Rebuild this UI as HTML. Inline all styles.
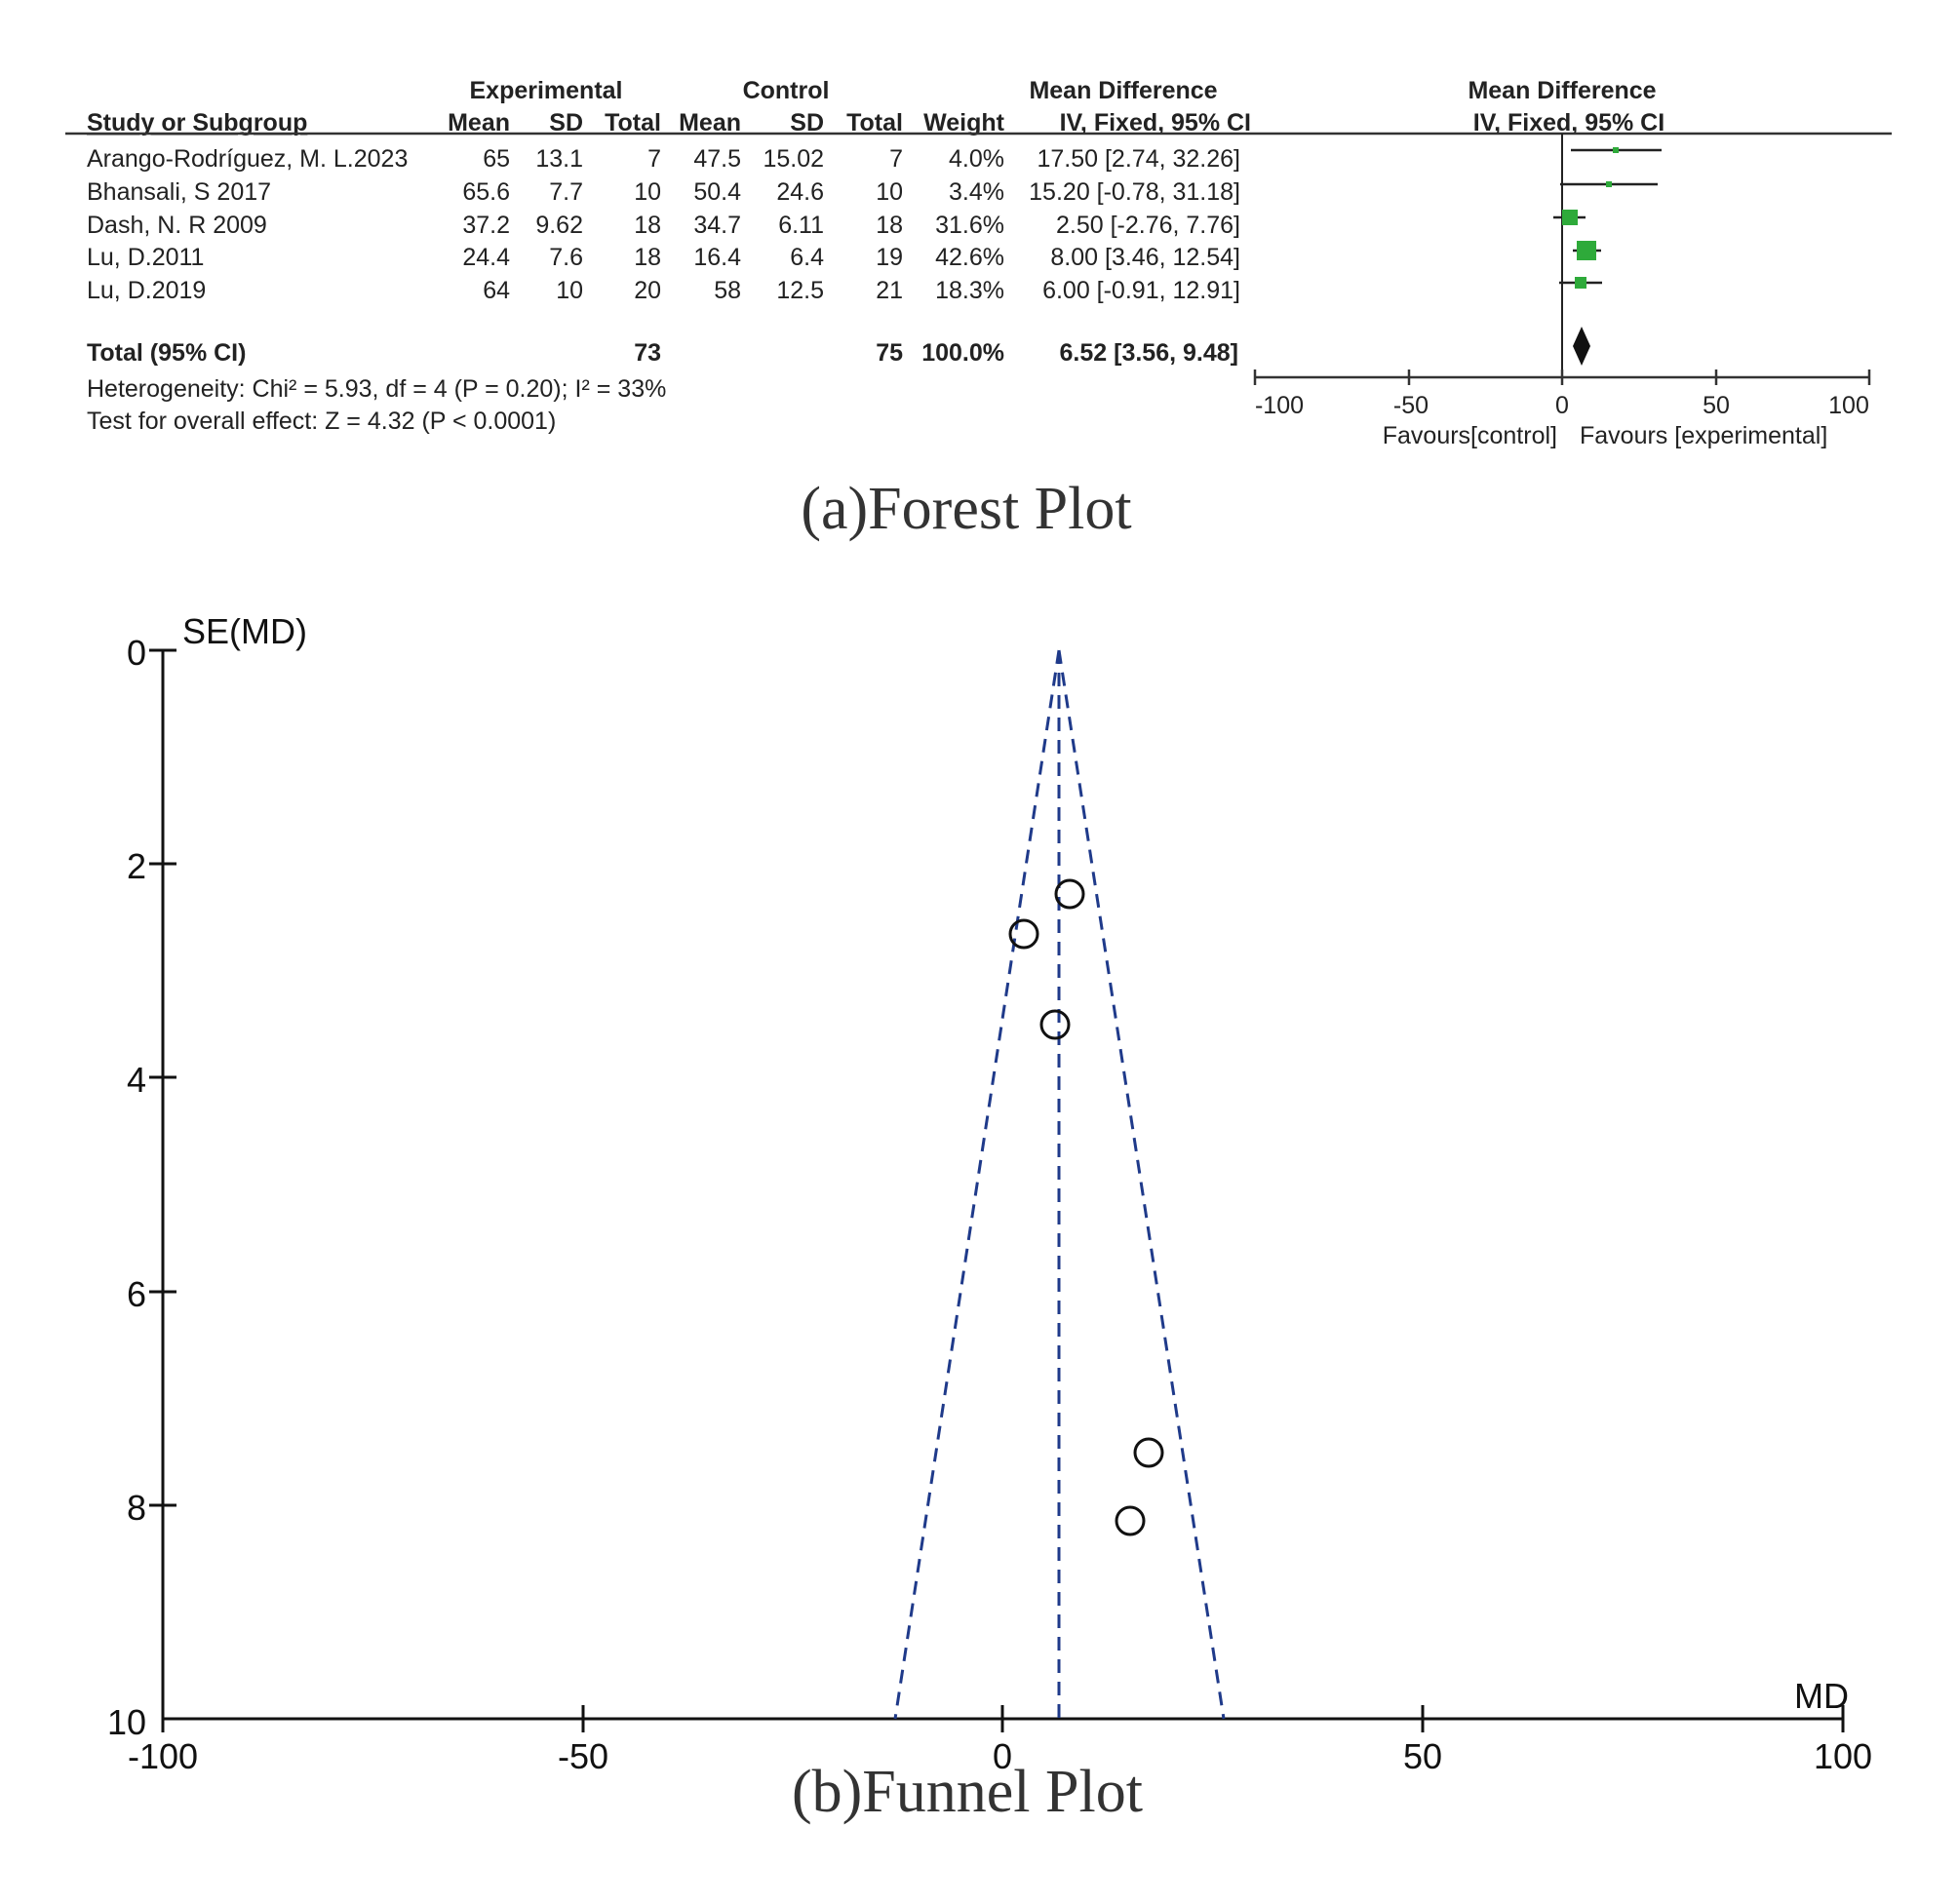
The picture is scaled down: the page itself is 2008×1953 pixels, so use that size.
<!DOCTYPE html>
<html><head><meta charset="utf-8"><style>
html,body{margin:0;padding:0;background:#fff;}
svg{display:block;}
.t{font-family:"Liberation Sans",Arial,sans-serif;font-size:25px;fill:#222;}
.b{font-weight:bold;}
.s{font-family:"Liberation Serif","Noto Serif CJK SC",serif;font-size:62px;fill:#333;}
.ax{font-family:"Liberation Sans",Arial,sans-serif;font-size:36px;fill:#111;}
</style></head><body>
<svg width="2008" height="1953" viewBox="0 0 2008 1953" xmlns="http://www.w3.org/2000/svg">
<rect width="2008" height="1953" fill="#fff"/>
<g class="t b">
<text x="560" y="101" text-anchor="middle">Experimental</text>
<text x="806" y="101" text-anchor="middle">Control</text>
<text x="1152" y="101" text-anchor="middle">Mean Difference</text>
<text x="1602" y="101" text-anchor="middle">Mean Difference</text>
<text x="89" y="134" text-decoration="underline">Study or Subgroup</text>
<text x="523" y="134" text-anchor="end">Mean</text>
<text x="598" y="134" text-anchor="end">SD</text>
<text x="678" y="134" text-anchor="end">Total</text>
<text x="760" y="134" text-anchor="end">Mean</text>
<text x="845" y="134" text-anchor="end">SD</text>
<text x="926" y="134" text-anchor="end">Total</text>
<text x="1030" y="134" text-anchor="end">Weight</text>
<text x="1283" y="134" text-anchor="end">IV, Fixed, 95% CI</text>
<text x="1609" y="134" text-anchor="middle">IV, Fixed, 95% CI</text>
</g>
<line x1="67" y1="137" x2="1940" y2="137" stroke="#333" stroke-width="2.5"/>
<g class="t">
<text x="89" y="171">Arango-Rodríguez, M. L.2023</text>
<text x="89" y="205">Bhansali, S 2017</text>
<text x="89" y="239">Dash, N. R 2009</text>
<text x="89" y="272">Lu, D.2011</text>
<text x="89" y="306">Lu, D.2019</text>
</g>
<g class="t" text-anchor="end">
<text x="523" y="171">65</text><text x="598" y="171">13.1</text><text x="678" y="171">7</text><text x="760" y="171">47.5</text><text x="845" y="171">15.02</text><text x="926" y="171">7</text><text x="1030" y="171">4.0%</text><text x="1272" y="171">17.50 [2.74, 32.26]</text>
<text x="523" y="205">65.6</text><text x="598" y="205">7.7</text><text x="678" y="205">10</text><text x="760" y="205">50.4</text><text x="845" y="205">24.6</text><text x="926" y="205">10</text><text x="1030" y="205">3.4%</text><text x="1272" y="205">15.20 [-0.78, 31.18]</text>
<text x="523" y="239">37.2</text><text x="598" y="239">9.62</text><text x="678" y="239">18</text><text x="760" y="239">34.7</text><text x="845" y="239">6.11</text><text x="926" y="239">18</text><text x="1030" y="239">31.6%</text><text x="1272" y="239">2.50 [-2.76, 7.76]</text>
<text x="523" y="272">24.4</text><text x="598" y="272">7.6</text><text x="678" y="272">18</text><text x="760" y="272">16.4</text><text x="845" y="272">6.4</text><text x="926" y="272">19</text><text x="1030" y="272">42.6%</text><text x="1272" y="272">8.00 [3.46, 12.54]</text>
<text x="523" y="306">64</text><text x="598" y="306">10</text><text x="678" y="306">20</text><text x="760" y="306">58</text><text x="845" y="306">12.5</text><text x="926" y="306">21</text><text x="1030" y="306">18.3%</text><text x="1272" y="306">6.00 [-0.91, 12.91]</text>
</g>
<g class="t b">
<text x="89" y="370">Total (95% CI)</text>
<text x="678" y="370" text-anchor="end">73</text>
<text x="926" y="370" text-anchor="end">75</text>
<text x="1030" y="370" text-anchor="end">100.0%</text>
<text x="1270" y="370" text-anchor="end">6.52 [3.56, 9.48]</text>
</g>
<g class="t">
<text x="89" y="407">Heterogeneity: Chi² = 5.93, df = 4 (P = 0.20); I² = 33%</text>
<text x="89" y="440">Test for overall effect: Z = 4.32 (P &lt; 0.0001)</text>
</g>
<line x1="1602" y1="137" x2="1602" y2="387" stroke="#222" stroke-width="2"/>
<g stroke="#222" stroke-width="2.5">
<line x1="1611" y1="154" x2="1704" y2="154"/>
<line x1="1600" y1="189" x2="1700" y2="189"/>
<line x1="1593" y1="223" x2="1626" y2="223"/>
<line x1="1613" y1="257" x2="1642" y2="257"/>
<line x1="1599" y1="290" x2="1643" y2="290"/>
</g>
<g fill="#2eaa3a">
<rect x="1654" y="151" width="6" height="6"/>
<rect x="1647" y="186" width="6" height="6"/>
<rect x="1602" y="215" width="16" height="16"/>
<rect x="1617" y="247" width="20" height="20"/>
<rect x="1615" y="284" width="12" height="12"/>
</g>
<polygon points="1613,355 1622,335 1631,355 1622,375" fill="#111"/>
<line x1="1287" y1="387" x2="1917" y2="387" stroke="#333" stroke-width="2.5"/>
<g stroke="#333" stroke-width="2.5">
<line x1="1287" y1="379" x2="1287" y2="395"/><line x1="1445" y1="379" x2="1445" y2="395"/><line x1="1602" y1="379" x2="1602" y2="395"/><line x1="1760" y1="379" x2="1760" y2="395"/><line x1="1917" y1="379" x2="1917" y2="395"/>
</g>
<g class="t">
<text x="1312" y="424" text-anchor="middle">-100</text>
<text x="1447" y="424" text-anchor="middle">-50</text>
<text x="1602" y="424" text-anchor="middle">0</text>
<text x="1760" y="424" text-anchor="middle">50</text>
<text x="1896" y="424" text-anchor="middle">100</text>
<text x="1597" y="455" text-anchor="end">Favours[control]</text>
<text x="1620" y="455">Favours [experimental]</text>
</g>
<text class="s" x="991" y="542" text-anchor="middle">(a)Forest Plot</text>
<line x1="167" y1="667" x2="167" y2="1763" stroke="#111" stroke-width="3"/>
<line x1="167" y1="1763" x2="1890" y2="1763" stroke="#111" stroke-width="3"/>
<g stroke="#111" stroke-width="3">
<line x1="153" y1="667" x2="181" y2="667"/><line x1="153" y1="886" x2="181" y2="886"/><line x1="153" y1="1105" x2="181" y2="1105"/><line x1="153" y1="1325" x2="181" y2="1325"/><line x1="153" y1="1544" x2="181" y2="1544"/>
<line x1="167" y1="1749" x2="167" y2="1777"/><line x1="598" y1="1749" x2="598" y2="1777"/><line x1="1028" y1="1749" x2="1028" y2="1777"/><line x1="1459" y1="1749" x2="1459" y2="1777"/><line x1="1890" y1="1749" x2="1890" y2="1777"/>
</g>
<g class="ax" text-anchor="end">
<text x="150" y="682">0</text><text x="150" y="901">2</text><text x="150" y="1120">4</text><text x="150" y="1340">6</text><text x="150" y="1559">8</text><text x="150" y="1779">10</text>
</g>
<g class="ax" text-anchor="middle">
<text x="167" y="1814">-100</text><text x="598" y="1814">-50</text><text x="1028" y="1814">0</text><text x="1459" y="1814">50</text><text x="1890" y="1814">100</text>
</g>
<text class="ax" x="187" y="660">SE(MD)</text>
<text class="ax" x="1840" y="1752">MD</text>
<g stroke="#1f3a8a" stroke-width="3" stroke-dasharray="14,9" fill="none">
<line x1="1086" y1="667" x2="918" y2="1763"/>
<line x1="1086" y1="667" x2="1255" y2="1763"/>
<line x1="1086" y1="667" x2="1086" y2="1763"/>
</g>
<g stroke="#111" stroke-width="3" fill="none">
<circle cx="1097" cy="917" r="14"/>
<circle cx="1050" cy="958" r="14"/>
<circle cx="1082" cy="1051" r="14"/>
<circle cx="1178" cy="1490" r="14"/>
<circle cx="1159" cy="1560" r="14"/>
</g>
<text class="s" x="992" y="1858" text-anchor="middle">(b)Funnel Plot</text>
</svg>
</body></html>
